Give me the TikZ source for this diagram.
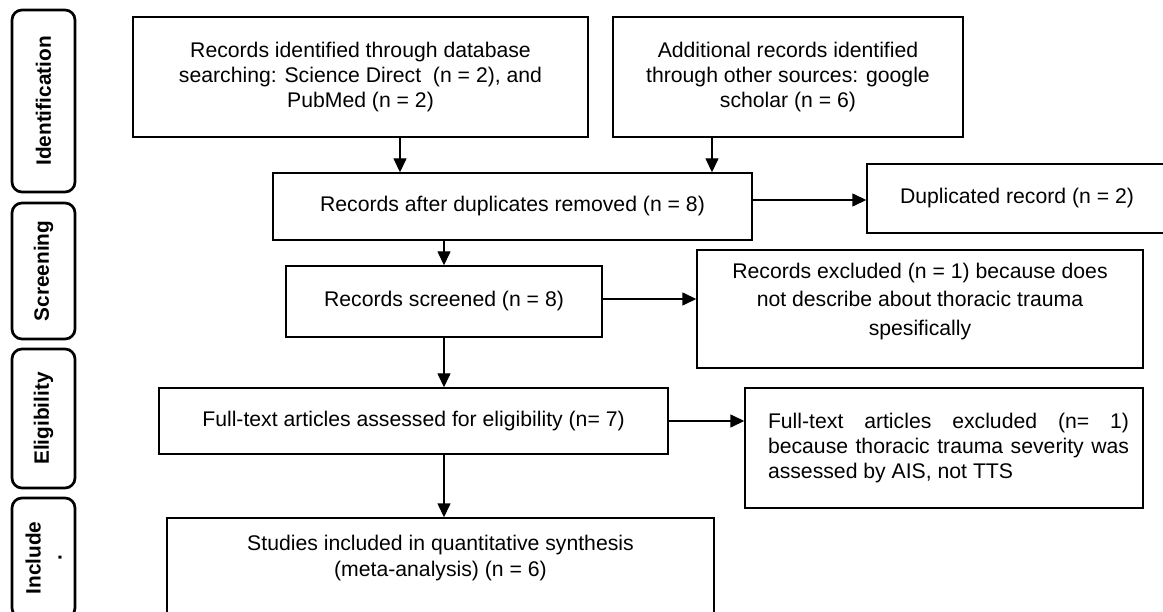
\documentclass[tikz,border=0pt]{standalone}
\usepackage{fontspec}
\setmainfont{Liberation Sans}
\usetikzlibrary{arrows.meta}
\newcommand\bodyfs{\fontsize{21.2pt}{25pt}\selectfont}
\newcommand\exfs{\fontsize{21.2pt}{28.3pt}\selectfont}
\newcommand\finfs{\fontsize{21.2pt}{26pt}\selectfont}
\newcommand\sidefs{\fontsize{20.8pt}{21pt}\selectfont\bfseries}
\begin{document}
\begin{tikzpicture}[x=1pt,y=-1pt,
  box/.style={draw, line width=1.4pt, inner sep=0pt, font=\bodyfs, align=center},
  side/.style={draw, line width=2.7pt, rounded corners=10pt, inner sep=0pt,
    rotate=90, minimum height=63pt, font=\sidefs, align=center},
  arr/.style={line width=1.4pt, -{Triangle[length=14pt,width=13pt]}},
  lbl/.style={inner sep=0pt, anchor=center, align=center}]
\useasboundingbox (0,0) rectangle (1163,612);

% phase labels
\node[side, minimum width=182pt] (idl) at (43.5,101) {Identification};
\node[side, minimum width=136pt] (scl) at (43.5,271) {Screening};
\node[side, minimum width=139pt] (ell) at (43.5,418.5) {Eligibility};
\node[side, minimum width=120pt] (inl) at (43.5,558) {Include\\.};

% boxes
\node[box, minimum width=455pt, minimum height=120pt] (b1) at (360.5,77)
  {Records identified through database\\searching: Science Direct~ (n = 2), and\\PubMed (n = 2)};
\node[box, minimum width=350pt, minimum height=120pt] (b2) at (788,77)
  {Additional records identified\\through other sources: google\\scholar (n = 6)};
\node[box, minimum width=479pt, minimum height=67pt] (dup) at (512.5,206.5)
  {Records after duplicates removed (n = 8)};
\node[box, minimum width=300pt, minimum height=69pt] (dupl) at (1017,198.5)
  {Duplicated record (n = 2)};
\node[box, minimum width=316pt, minimum height=71pt] (scr) at (444,301.5)
  {Records screened (n = 8)};
\node[box, minimum width=446pt, minimum height=118pt,
  label={[lbl, font=\exfs, yshift=7.5pt]center:{Records excluded (n = 1) because does\\not describe about thoracic trauma\\spesifically}}] (ex1) at (920,309) {};
\node[box, minimum width=509pt, minimum height=66pt] (full) at (413.5,421)
  {Full-text articles assessed for eligibility (n= 7)};
\node[box, minimum width=398pt, minimum height=120pt,
  label={[lbl, font=\bodyfs, align=left, xshift=4.5pt]center:{\makebox[361pt][s]{Full-text articles excluded (n= 1)}\\\makebox[361pt][s]{because thoracic trauma severity was}\\assessed by AIS, not TTS}}] (ex2) at (944,448) {};
\node[box, minimum width=547pt, minimum height=122pt,
  label={[lbl, font=\finfs, yshift=21pt]center:{Studies included in quantitative synthesis\\(meta-analysis) (n = 6)}}] (fin) at (440.5,579) {};

% connectors
\draw[arr] (b1.south -| 400,0) -- (dup.north -| 400,0);
\draw[arr] (b2.south -| 712,0) -- (dup.north -| 712,0);
\draw[arr] (dup.east |- 0,200) -- (dupl.west |- 0,200);
\draw[arr] (dup.south -| scr.north) -- (scr.north);
\draw[arr] (scr.east |- 0,299) -- (ex1.west |- 0,299);
\draw[arr] (scr.south) -- (full.north -| scr.south);
\draw[arr] (full.east) -- (ex2.west |- full.east);
\draw[arr] (full.south -| scr.south) -- (fin.north -| scr.south);
\end{tikzpicture}
\end{document}
